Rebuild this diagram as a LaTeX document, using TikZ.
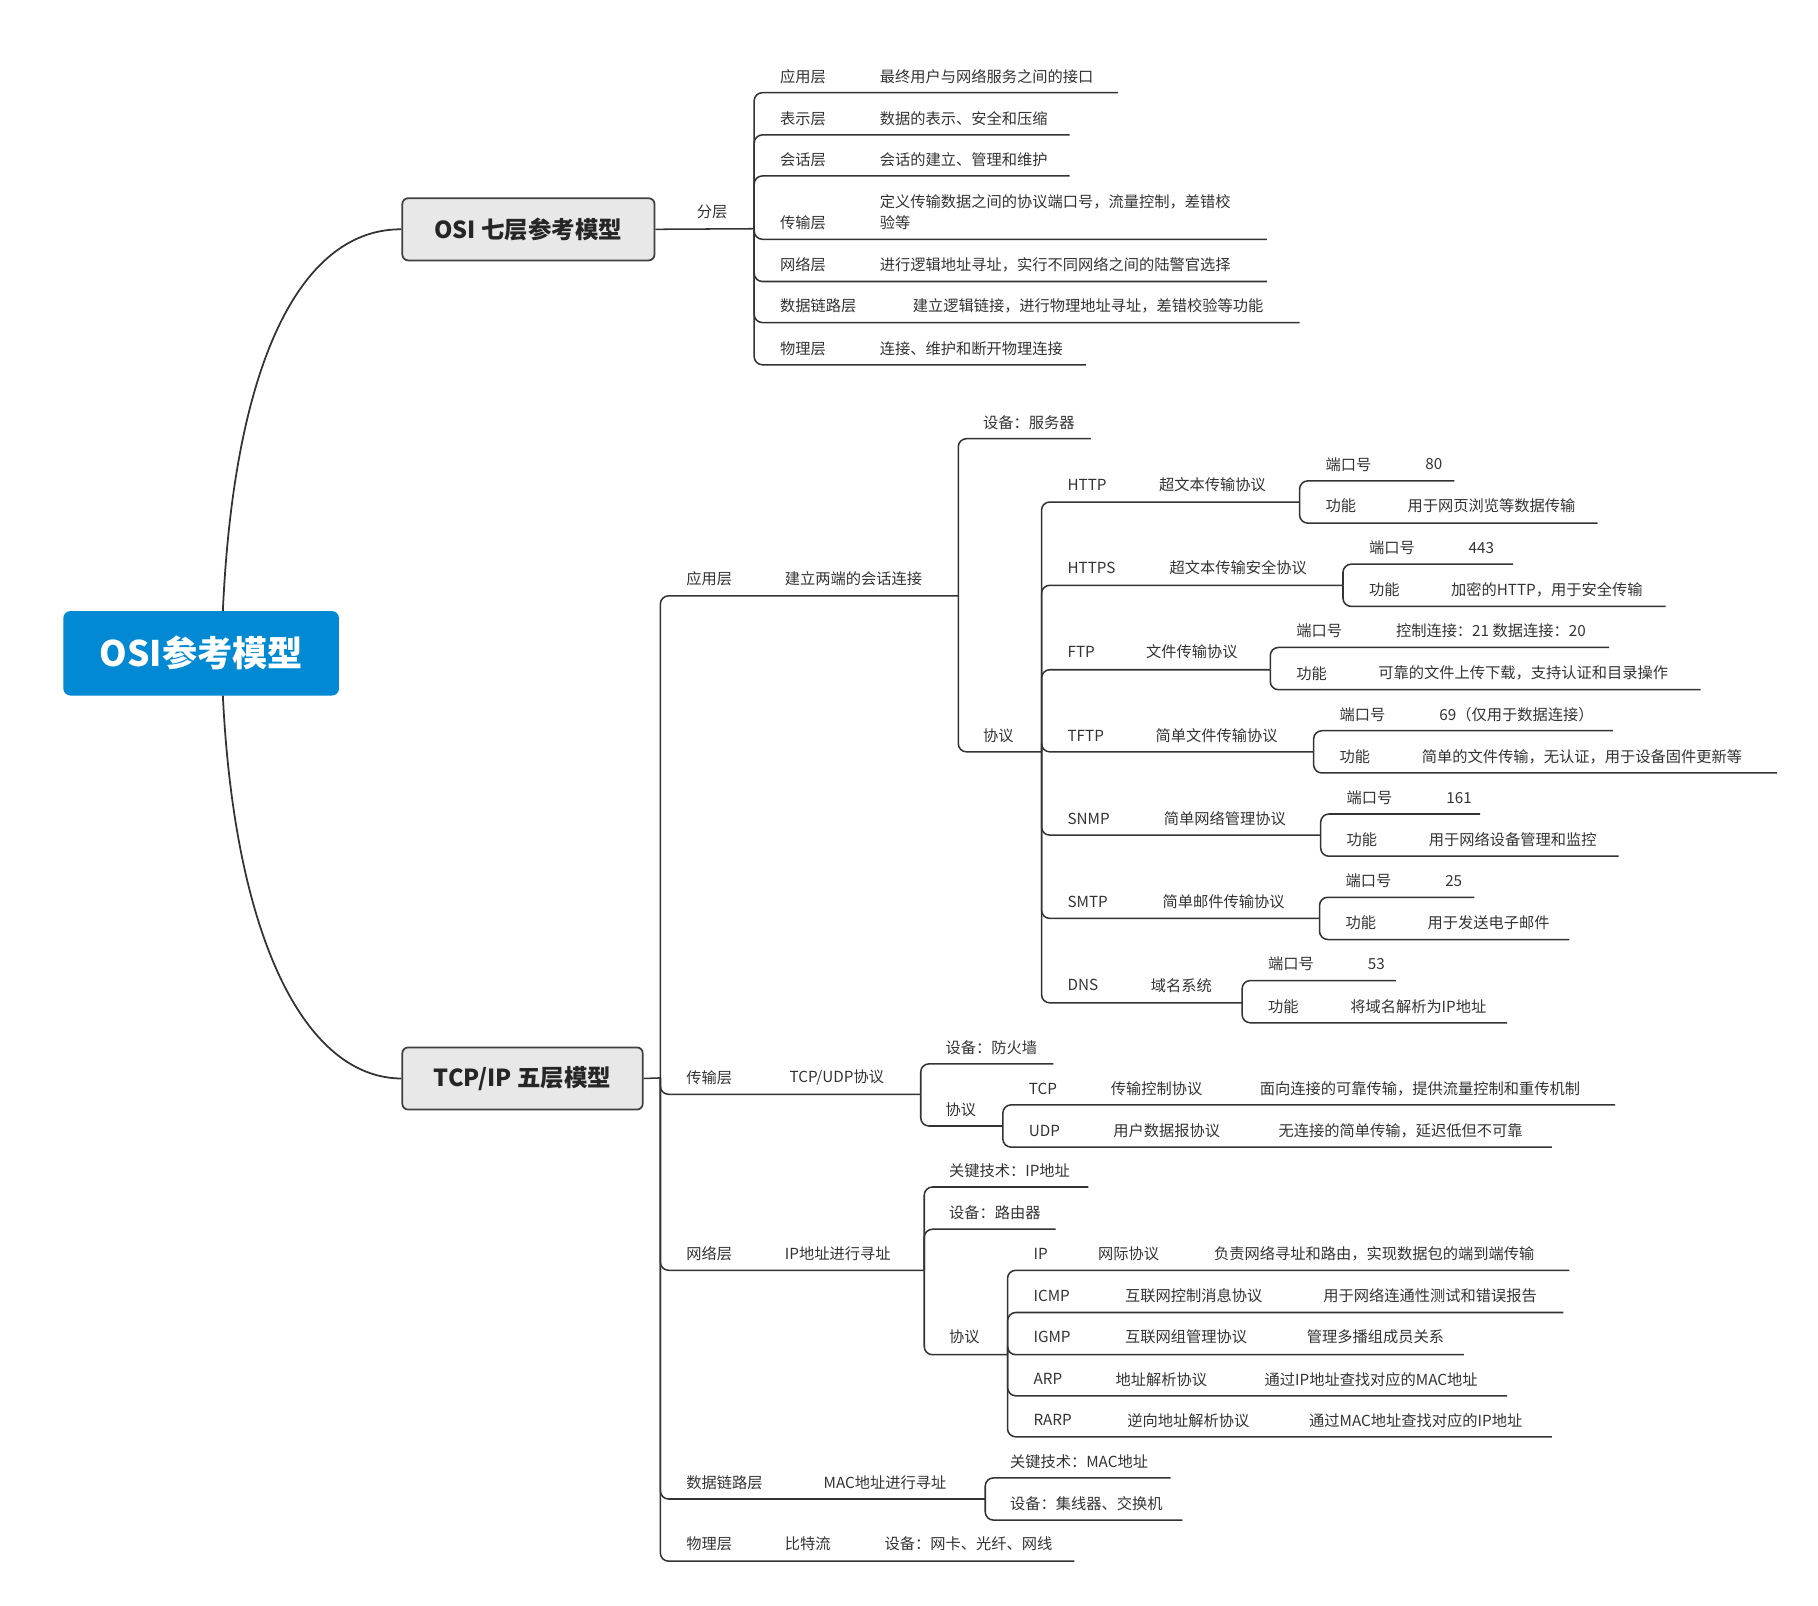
\documentclass[tikz,border=0pt]{standalone}
\usepackage{fontspec}
\setmainfont{Noto Sans CJK SC}
\begin{document}
\begin{tikzpicture}[x=1pt,y=-1pt,
  ln/.style={draw=black!80,line width=1.3pt,rounded corners=7pt},
  t/.style={anchor=west,inner sep=0pt,font=\fontsize{13}{15}\selectfont,text=black!80}]
\newcommand\R[4]{\draw[ln] (#1,#2) |- (#4,#3);}
\newcommand\T[3]{\node[t] at (#1,#2) {#3};}
\useasboundingbox (0,0) rectangle (1550,1369);
% root
\node[fill={rgb,255:red,2;green,137;blue,211},rounded corners=6pt,minimum width=235pt,minimum height=72pt,text=white,font=\fontsize{30}{34}\selectfont\bfseries] (root) at (171.5,557) {OSI参考模型};
\node[fill=black!9,draw=black!75,line width=1.5pt,rounded corners=5pt,minimum width=215pt,minimum height=53pt,font=\fontsize{20}{24}\selectfont\bfseries,text=black!85] (osi) at (450.5,195.5) {OSI 七层参考模型};
\node[fill=black!9,draw=black!75,line width=1.5pt,rounded corners=5pt,minimum width=205pt,minimum height=53pt,font=\fontsize{20}{24}\selectfont\bfseries,text=black!85] (tcp) at (445.5,919.5) {TCP/IP 五层模型};
\draw[black!80,line width=1.5pt] (190,521) .. controls (200,300) and (260,195) .. (osi.west);
\draw[black!80,line width=1.5pt] (190,593) .. controls (200,800) and (260,919) .. (tcp.west);
% OSI
\draw[ln] (osi.east) -- (643,195);
\T{594}{181}{分层}
\R{643}{195}{79}{953}\T{665}{65}{应用层}\T{750}{65}{最终用户与网络服务之间的接口}
\R{643}{195}{115}{912}\T{665}{101}{表示层}\T{750}{101}{数据的表示、安全和压缩}
\R{643}{195}{150}{912}\T{665}{136}{会话层}\T{750}{136}{会话的建立、管理和维护}
\R{643}{195}{204}{1080}\T{665}{190}{传输层}\T{750}{172}{定义传输数据之间的协议端口号，流量控制，差错校}\T{750}{190}{验等}
\R{643}{195}{240}{1080}\T{665}{226}{网络层}\T{750}{226}{进行逻辑地址寻址，实行不同网络之间的陆警官选择}
\R{643}{195}{275}{1108}\T{665}{261}{数据链路层}\T{778}{261}{建立逻辑链接，进行物理地址寻址，差错校验等功能}
\R{643}{195}{311}{926}\T{665}{297}{物理层}\T{750}{297}{连接、维护和断开物理连接}
% TCP
\draw[ln] (tcp.east) -- (563,919);
\R{563}{919}{508}{817}\T{585}{493}{应用层}\T{669}{493}{建立两端的会话连接}
\R{817}{508}{374}{930}\T{838}{360}{设备：服务器}
\R{817}{508}{641}{888}\T{838}{627}{协议}
% HTTP
\R{888}{641}{428}{1108}\T{910}{413}{HTTP}\T{988}{413}{超文本传输协议}
\R{1108}{428}{410}{1240}\T{1130}{396}{端口号}\T{1215}{396}{80}
\R{1108}{428}{446}{1362}\T{1130}{431}{功能}\T{1200}{431}{用于网页浏览等数据传输}
\R{888}{641}{499}{1145}\T{910}{484}{HTTPS}\T{997}{484}{超文本传输安全协议}
\R{1145}{499}{481}{1290}\T{1167}{467}{端口号}\T{1252}{467}{443}
\R{1145}{499}{517}{1420}\T{1167}{503}{功能}\T{1237}{503}{加密的HTTP，用于安全传输}
\R{888}{641}{571}{1083}\T{910}{556}{FTP}\T{977}{556}{文件传输协议}
\R{1083}{571}{552}{1372}\T{1105}{538}{端口号}\T{1190}{538}{控制连接：21 数据连接：20}
\R{1083}{571}{588}{1450}\T{1105}{574}{功能}\T{1175}{574}{可靠的文件上传下载，支持认证和目录操作}
\R{888}{641}{641}{1120}\T{910}{627}{TFTP}\T{985}{627}{简单文件传输协议}
\R{1120}{641}{623}{1375}\T{1142}{609}{端口号}\T{1227}{609}{69（仅用于数据连接）}
\R{1120}{641}{659}{1515}\T{1142}{645}{功能}\T{1212}{645}{简单的文件传输，无认证，用于设备固件更新等}
\R{888}{641}{712}{1126}\T{910}{698}{SNMP}\T{992}{698}{简单网络管理协议}
\R{1126}{712}{694}{1262}\T{1148}{680}{端口号}\T{1233}{680}{161}
\R{1126}{712}{730}{1380}\T{1148}{716}{功能}\T{1218}{716}{用于网络设备管理和监控}
\R{888}{641}{783}{1125}\T{910}{769}{SMTP}\T{991}{769}{简单邮件传输协议}
\R{1125}{783}{765}{1257}\T{1147}{751}{端口号}\T{1232}{751}{25}
\R{1125}{783}{801}{1338}\T{1147}{787}{功能}\T{1217}{787}{用于发送电子邮件}
\R{888}{641}{855}{1059}\T{910}{840}{DNS}\T{981}{840}{域名系统}
\R{1059}{855}{836}{1190}\T{1081}{822}{端口号}\T{1166}{822}{53}
\R{1059}{855}{872}{1285}\T{1081}{858}{功能}\T{1151}{858}{将域名解析为IP地址}
% transport
\R{563}{919}{933}{785}\T{585}{919}{传输层}\T{673}{919}{TCP/UDP协议}
\R{785}{933}{907}{898}\T{806}{893}{设备：防火墙}
\R{785}{933}{960}{855}\T{806}{946}{协议}
\R{855}{960}{942}{1377}\T{877}{928}{TCP}\T{947}{928}{传输控制协议}\T{1074}{928}{面向连接的可靠传输，提供流量控制和重传机制}
\R{855}{960}{978}{1323}\T{877}{964}{UDP}\T{949}{964}{用户数据报协议}\T{1090}{964}{无连接的简单传输，延迟低但不可靠}
% network
\R{563}{919}{1083}{788}\T{585}{1069}{网络层}\T{669}{1069}{IP地址进行寻址}
\R{788}{1083}{1012}{928}\T{809}{998}{关键技术：IP地址}
\R{788}{1083}{1048}{900}\T{809}{1034}{设备：路由器}
\R{788}{1083}{1155}{859}\T{809}{1140}{协议}
\R{859}{1155}{1083}{1338}\T{881}{1069}{IP}\T{936}{1069}{网际协议}\T{1035}{1069}{负责网络寻址和路由，实现数据包的端到端传输}
\R{859}{1155}{1119}{1333}\T{881}{1105}{ICMP}\T{959}{1105}{互联网控制消息协议}\T{1128}{1105}{用于网络连通性测试和错误报告}
\R{859}{1155}{1155}{1248}\T{881}{1140}{IGMP}\T{959}{1140}{互联网组管理协议}\T{1114}{1140}{管理多播组成员关系}
\R{859}{1155}{1190}{1285}\T{881}{1176}{ARP}\T{951}{1176}{地址解析协议}\T{1078}{1176}{通过IP地址查找对应的MAC地址}
\R{859}{1155}{1225}{1323}\T{881}{1211}{RARP}\T{961}{1211}{逆向地址解析协议}\T{1116}{1211}{通过MAC地址查找对应的IP地址}
% data link
\R{563}{919}{1278}{840}\T{585}{1264}{数据链路层}\T{702}{1264}{MAC地址进行寻址}
\R{840}{1278}{1260}{998}\T{861}{1246}{关键技术：MAC地址}
\R{840}{1278}{1296}{1008}\T{861}{1282}{设备：集线器、交换机}
% physical
\R{563}{919}{1331}{916}\T{585}{1316}{物理层}\T{669}{1316}{比特流}\T{754}{1316}{设备：网卡、光纤、网线}
\end{tikzpicture}
\end{document}
